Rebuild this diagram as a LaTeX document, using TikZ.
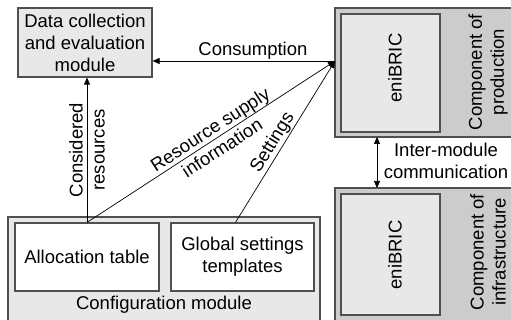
\documentclass[tikz,border=0pt]{standalone}
\usepackage{fontspec}
\setmainfont{Liberation Sans}
\usepackage{tikz}
\usetikzlibrary{arrows.meta, positioning}
\definecolor{lightbox}{RGB}{232,232,232}
\definecolor{darkbox}{RGB}{204,204,204}
\definecolor{frame}{RGB}{80,80,80}
\tikzstyle{module} = [rectangle, draw=frame, line width=1.2pt, inner sep=0pt]
\tikzstyle{arrow} = [line width=0.7pt, -{Triangle[length=7pt,width=6pt]}]

\begin{document}
\begin{tikzpicture}[x=1pt, y=-1pt,
    font=\fontsize{18.5}{22}\selectfont,
    lbl/.style={align=center, inner sep=1pt}]
    \useasboundingbox (0,0) rectangle (511,320);
    % evaluation side
    \node[module, fill=lightbox, minimum width=134pt, minimum height=69pt, align=center] (data) at (85,42.5) {Data collection\\and evaluation\\module};
    % configuration module with its two tables
    \node[module, fill=lightbox, minimum width=312pt, minimum height=110pt] (config) at (164,272) {};
    \node[module, fill=white, minimum width=144pt, minimum height=68pt] (alloc) at (87,257) {Allocation table};
    \node[module, fill=white, minimum width=143pt, minimum height=68pt, align=center] (glob) at (242.5,257) {Global settings\\templates};
    \node[lbl] (conflbl) at (164,305) {Configuration module};
    % eniBRIC components
    \node[module, fill=darkbox, minimum width=182pt, minimum height=129pt] (prod) at (426,72.5) {};
    \node[module, fill=lightbox, minimum width=99pt, minimum height=118pt] (prodcore) at (390.5,73) {};
    \node[lbl, rotate=90] (prodname) at (395,68) {eniBRIC};
    \node[lbl, rotate=90] (prodlbl) at (488,72) {Component of\\production};
    \node[module, fill=darkbox, minimum width=182pt, minimum height=140pt] (infra) at (426,258) {};
    \node[module, fill=lightbox, minimum width=99pt, minimum height=121pt] (infracore) at (390.5,254.5) {};
    \node[lbl, rotate=90] (infraname) at (395,255) {eniBRIC};
    \node[lbl, rotate=90] (infralbl) at (488,252) {Component of\\infrastructure};

    \coordinate (hub) at (335,61);
    \coordinate (top) at (377,137);
    \coordinate (bot) at (377,188);

    \draw[arrow] (hub) -- node[lbl, above, pos=0.45] {Consumption} (data.east |- hub);
    \draw[arrow] (alloc.north) -- node[lbl, rotate=90] {Considered\\resources} (alloc.north |- data.south);
    \draw[arrow] (alloc.north) -- node[lbl, sloped, pos=0.52] {Resource supply\\information} (hub);
    \draw[arrow] ([xshift=-7pt]glob.north) -- node[lbl, sloped, above, pos=0.46] {Settings} (hub);
    \draw[arrow, {Triangle[length=7pt,width=6pt]}-{Triangle[length=7pt,width=6pt]}] (top) -- (bot);
    \node[lbl] (interlbl) at (446,161) {Inter-module\\communication};
\end{tikzpicture}
\end{document}
